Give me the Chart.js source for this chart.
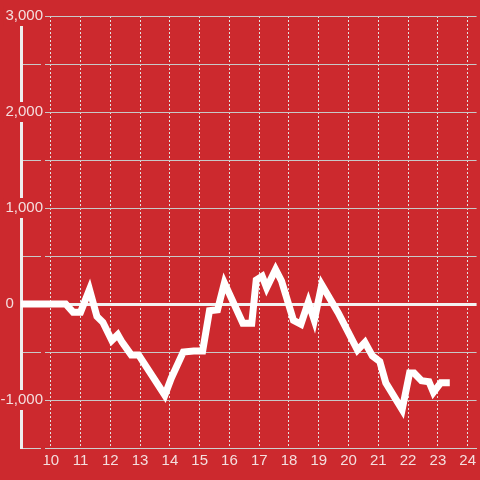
<!DOCTYPE html>
<html lang="en">
<head>
  <meta charset="UTF-8">
  <title>Running balance</title>
  <script src="https://cdn.jsdelivr.net/npm/chart.js"></script>
  <style>
    html, body { margin: 0; padding: 0; background-color: #cc292e; }
    #wrap { width: 480px; height: 480px; }
  </style>
</head>
<body>
  <div id="wrap"><canvas id="chart" width="480" height="480"></canvas></div>

  <script>
    // hour of day and running value
    const hours = [9.0, 10.5, 10.75, 11.0, 11.3, 11.55, 11.75, 12.05, 12.25, 12.4, 12.7, 12.95,
      13.83, 14.05, 14.45, 14.8, 15.1, 15.33, 15.6, 15.83, 16.45, 16.75, 16.9, 17.1, 17.25,
      17.55, 17.75, 18.15, 18.4, 18.65, 18.85, 19.1, 19.65, 20.3, 20.55, 20.8, 21.05, 21.25,
      21.8, 22.05, 22.2, 22.45, 22.7, 22.85, 23.1, 23.4];
    const values = [0, 0, -85, -85, 150, -130, -190, -380, -320, -400, -530, -530,
      -950, -770, -500, -490, -490, -70, -60, 220, -200, -200, 250, 290, 170,
      360, 240, -170, -210, 20, -170, 200, -90, -480, -400, -540, -600, -820,
      -1100, -720, -720, -800, -810, -920, -820, -820];

    const xTicks = [10, 11, 12, 13, 14, 15, 16, 17, 18, 19, 20, 21, 22, 23, 24];
    const yLabelled = [-1000, 0, 1000, 2000, 3000];

    const red = "#cc292e";
    const labelColor = "#f4dede";
    const font = { family: "'Liberation Sans', Arial, sans-serif", size: 15 };

    const points = hours.map((h, i) => ({ x: h, y: values[i] }));

    new Chart(document.getElementById("chart"), {
      type: "line",
      data: {
        datasets: [{
          data: points,
          borderColor: "#ffffff",
          borderWidth: 7,
          pointRadius: 0,
          tension: 0,
          fill: false
        }]
      },
      options: {
        responsive: false,
        animation: false,
        layout: { padding: { top: 16, left: 0, right: 0, bottom: 0 } },
        plugins: { legend: { display: false }, tooltip: { enabled: false } },
        scales: {
          x: {
            type: "linear",
            min: 9,
            max: 24.3,
            afterFit: (s) => { s.height = 32; },
            afterBuildTicks: (s) => { s.ticks = [{ value: 9 }].concat(xTicks.map(v => ({ value: v }))); },
            border: { display: true, color: "#cfcfcf", width: 1, dash: [2, 2] },
            grid: {
              color: "#e2e2e2",
              lineWidth: 1,
              drawTicks: false
            },
            ticks: {
              autoSkip: false,
              maxRotation: 0,
              padding: 4,
              color: labelColor,
              font: font,
              callback: (v) => (xTicks.includes(v) ? String(v) : "")
            }
          },
          y: {
            min: -1500,
            max: 3000,
            afterFit: (s) => {
              s.width = 21;
              // labels hang over the plot, so don't clip them to the narrow axis box
              s._computeLabelArea = () => undefined;
            },
            border: { display: true, color: "#eeeeee", width: 3 },
            grid: {
              drawTicks: false,
              color: (c) => (c.tick && c.tick.value === 0 ? "#f2f2f2" : "#c8c8c8"),
              lineWidth: (c) => (c.tick && c.tick.value === 0 ? 3 : 1)
            },
            ticks: {
              stepSize: 500,
              autoSkip: false,
              crossAlign: "near",
              padding: -22,
              color: labelColor,
              font: font,
              showLabelBackdrop: true,
              backdropPadding: { top: 1, bottom: 1, left: 2, right: 2 },
              backdropColor: (c) => (c.tick && c.tick.value === 0 ? "rgba(0,0,0,0)" : red),
              callback: (v) => {
                if (!yLabelled.includes(v)) return "";
                if (v === 0) return "0       ";
                return v.toLocaleString("en-US");
              }
            }
          }
        }
      }
    });
  </script>
</body>
</html>
